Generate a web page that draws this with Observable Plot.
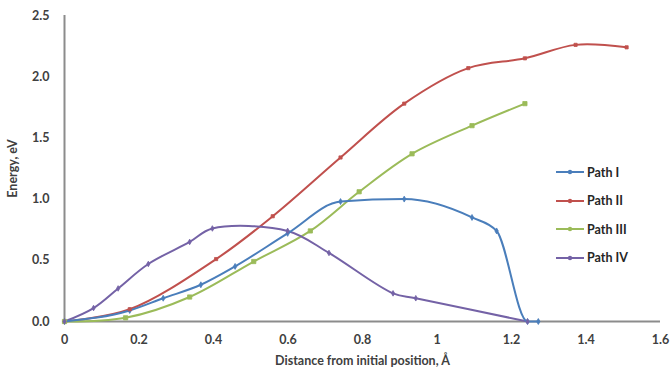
<!DOCTYPE html>
<html>
<head>
<meta charset="utf-8">
<script src="https://cdn.jsdelivr.net/npm/d3@7"></script>
<script src="https://cdn.jsdelivr.net/npm/@observablehq/plot@0.6"></script>
<style>
  html, body { margin: 0; padding: 0; background: #fff; }
  #wrap { position: relative; width: 672px; height: 369px; font-family: Lato, "Open Sans", sans-serif; }
  #legend { position: absolute; left: 555px; top: 158px; font: bold 12.5px Lato, "Open Sans", sans-serif; color: #262626; }
  .row { display: flex; align-items: center; height: 28.5px; }
  .row svg { margin-right: 2px; }
</style>
</head>
<body>
<div id="wrap"><div id="legend"></div></div>
<script>
// Data
const seriesNames = ["Path I", "Path II", "Path III", "Path IV"];
const seriesColors = ["#4a7ebb", "#c0504d", "#9bbb59", "#7462a6"];
const seriesSymbols = ["diamond", "square", "square", "diamond"];

const pathIx = [0, 0.175, 0.265, 0.366, 0.458, 0.599, 0.741, 0.912, 1.094, 1.160, 1.243, 1.272];
const pathIy = [0, 0.09, 0.19, 0.30, 0.45, 0.72, 0.98, 1.00, 0.85, 0.74, 0, 0];

const pathIIx = [0, 0.175, 0.407, 0.559, 0.741, 0.912, 1.084, 1.236, 1.372, 1.509];
const pathIIy = [0, 0.10, 0.51, 0.86, 1.34, 1.78, 2.07, 2.15, 2.26, 2.24];

const pathIIIx = [0, 0.164, 0.336, 0.508, 0.660, 0.791, 0.933, 1.094, 1.236];
const pathIIIy = [0, 0.03, 0.20, 0.49, 0.74, 1.06, 1.37, 1.60, 1.78];

const pathIVx = [0, 0.078, 0.144, 0.225, 0.336, 0.397, 0.599, 0.710, 0.882, 0.943, 1.243];
const pathIVy = [0, 0.11, 0.27, 0.47, 0.65, 0.76, 0.74, 0.56, 0.23, 0.19, 0];

const xTicks = [0, 0.2, 0.4, 0.6, 0.8, 1, 1.2, 1.4, 1.6];
const yTicks = [0, 0.5, 1.0, 1.5, 2.0, 2.5];

const xs = [pathIx, pathIIx, pathIIIx, pathIVx];
const ys = [pathIy, pathIIy, pathIIIy, pathIVy];
const data = [];
seriesNames.forEach((name, i) => {
  xs[i].forEach((x, j) => data.push({series: name, x, y: ys[i][j]}));
});

const markerR = [1.8, 1.8, 2.4, 1.7];

const dotMarks = seriesNames.map((name, i) =>
  Plot.dot(data.filter(d => d.series === name), {x: "x", y: "y", symbol: "series", fill: "series", stroke: "series",
    strokeWidth: 0.8, r: markerR[i]})
);

const chart = Plot.plot({
  width: 672,
  height: 369,
  marginLeft: 64,
  marginRight: 12,
  marginTop: 15,
  marginBottom: 48,
  style: {fontFamily: "Lato, 'Open Sans', sans-serif", background: "#fff"},
  x: {domain: [0, 1.6]},
  y: {domain: [0, 2.5]},
  color: {domain: seriesNames, range: seriesColors},
  symbol: {domain: seriesNames, range: seriesSymbols},
  marks: [
    Plot.axisX({ticks: xTicks, tickSize: 0, tickPadding: 14, tickFormat: d => String(d),
      fontSize: 12.5, fontWeight: "bold", fill: "#404040",
      label: "Distance from initial position, Å", labelAnchor: "center", labelArrow: "none", labelOffset: 43}),
    Plot.axisY({ticks: yTicks, tickSize: 0, tickPadding: 15, tickFormat: d3.format(".1f"),
      fontSize: 12.5, fontWeight: "bold", fill: "#404040",
      label: "Energy, eV", labelAnchor: "center", labelArrow: "none", labelOffset: 56}),
    Plot.ruleX([0], {stroke: "#8c8c8c", strokeWidth: 2}),
    Plot.ruleY([0], {stroke: "#8c8c8c", strokeWidth: 2}),
    Plot.line(data.filter(d => d.series !== "Path I"), {x: "x", y: "y", z: "series", stroke: "series", strokeWidth: 2, curve: "catmull-rom"}),
    Plot.line(data.filter(d => d.series === "Path I"), {x: "x", y: "y", z: "series", stroke: "series", strokeWidth: 2, curve: "monotone-x"}),
    ...dotMarks
  ]
});
document.getElementById("wrap").prepend(chart);

// Legend
const legend = document.getElementById("legend");
seriesNames.forEach((name, i) => {
  const row = document.createElement("div");
  row.className = "row";
  row.innerHTML = `<svg width="30" height="10"><line x1="1" y1="5" x2="29" y2="5" stroke="${seriesColors[i]}" stroke-width="2"/><circle cx="15" cy="5" r="2.2" fill="${seriesColors[i]}"/></svg><span>${name}</span>`;
  legend.appendChild(row);
});
</script>
</body>
</html>
